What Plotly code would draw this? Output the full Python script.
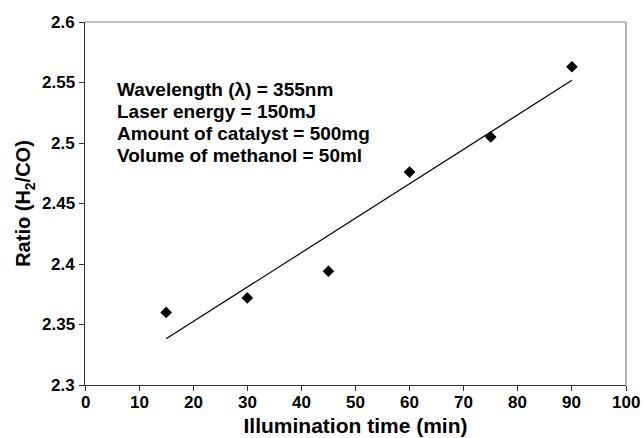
import numpy as np
import plotly.graph_objects as go

# Illumination time (min) and measured H2/CO ratio
time_min = [15, 30, 45, 60, 75, 90]
ratio_h2_co = [2.360, 2.372, 2.394, 2.476, 2.505, 2.563]

x_ticks = [0, 10, 20, 30, 40, 50, 60, 70, 80, 90, 100]
x_tick_text = ["0", "10", "20", "30", "40", "50", "60", "70", "80", "90", "100"]
y_ticks = [2.3, 2.35, 2.4, 2.45, 2.5, 2.55, 2.6]
y_tick_text = ["2.3", "2.35", "2.4", "2.45", "2.5", "2.55", "2.6"]

conditions = [
    "Wavelength (λ) = 355nm",
    "Laser energy = 150mJ",
    "Amount of catalyst = 500mg",
    "Volume of methanol = 50ml",
]

# Least-squares linear trend through the measurements
slope, intercept = np.polyfit(time_min, ratio_h2_co, 1)
fit_x = [time_min[0], time_min[-1]]
fit_y = [slope * v + intercept for v in fit_x]

FONT = "Liberation Sans"
TICK_SIZE = 17

fig = go.Figure()
fig.add_trace(go.Scatter(
    x=fit_x, y=fit_y, mode="lines",
    line=dict(color="black", width=1.2),
    showlegend=False, hoverinfo="skip",
))
fig.add_trace(go.Scatter(
    x=time_min, y=ratio_h2_co, mode="markers",
    marker=dict(symbol="diamond", size=9, color="black"),
    showlegend=False,
))

# experimental conditions, one line per annotation
first_line_y = 2.5446
line_step = 0.0182
for i, c in enumerate(conditions):
    fig.add_annotation(
        x=5.5, y=first_line_y - i * line_step, xref="x", yref="y",
        xanchor="left", yanchor="middle", align="left",
        text=f"<b>{c}</b>", showarrow=False,
        font=dict(family=FONT, size=19, color="black"),
    )

# bold tick labels placed on the axis scales
for v, t in zip(x_ticks, x_tick_text):
    fig.add_annotation(
        x=v, y=0, xref="x", yref="paper", xanchor="center", yanchor="top",
        yshift=-6, text=f"<b>{t}</b>", showarrow=False,
        font=dict(family=FONT, size=TICK_SIZE, color="black"),
    )
for v, t in zip(y_ticks, y_tick_text):
    fig.add_annotation(
        x=0, y=v, xref="paper", yref="y", xanchor="right", yanchor="middle",
        xshift=-8, text=f"<b>{t}</b>", showarrow=False,
        font=dict(family=FONT, size=TICK_SIZE, color="black"),
    )

# grey frame on the top and right edges
fig.add_shape(type="line", xref="paper", yref="paper", x0=0, x1=1, y0=1, y1=1,
              line=dict(color="#7f7f7f", width=1.2))
fig.add_shape(type="line", xref="paper", yref="paper", x0=1, x1=1, y0=0, y1=1,
              line=dict(color="#7f7f7f", width=1.2))

fig.update_xaxes(
    range=[0, 100], tickvals=x_ticks, showticklabels=False,
    ticks="outside", ticklen=5, tickcolor="#333333",
    showline=True, linecolor="#333333", linewidth=1.2,
    showgrid=False, zeroline=False, automargin=False,
    title=dict(text="<b>Illumination time (min)</b>", standoff=28,
               font=dict(family=FONT, size=21, color="black")),
)
fig.update_yaxes(
    range=[2.3, 2.6], tickvals=y_ticks, showticklabels=False,
    ticks="outside", ticklen=5, tickcolor="#333333",
    showline=True, linecolor="#333333", linewidth=1.2,
    showgrid=False, zeroline=False, automargin=False,
    title=dict(text="<b>Ratio (H<sub>2</sub>/CO)</b>", standoff=42,
               font=dict(family=FONT, size=20, color="black")),
)

fig.update_layout(
    width=643, height=438,
    margin=dict(l=85, r=17, t=22, b=53),
    plot_bgcolor="white", paper_bgcolor="white",
    font=dict(family=FONT),
)

fig.write_html("out.html")
